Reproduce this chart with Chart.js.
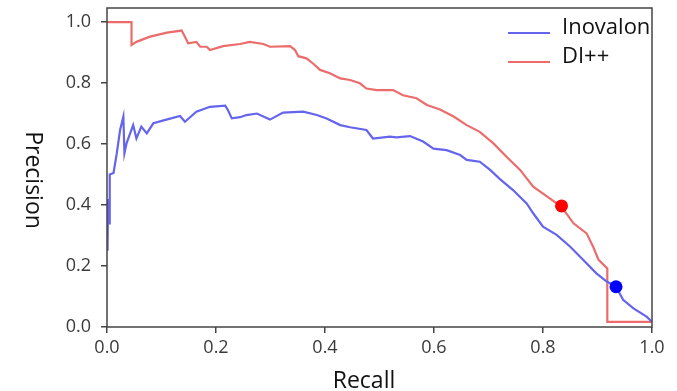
<!DOCTYPE html>
<html>
<head>
<meta charset="utf-8">
<script src="https://cdn.jsdelivr.net/npm/chart.js@4"></script>
<style>
  html, body { margin: 0; padding: 0; background: #fff; }
  #wrap { width: 677px; height: 391px; position: relative; }
</style>
</head>
<body>
<div id="wrap"><canvas id="c" width="677" height="391"></canvas></div>
<script>
// ---- data ----
const seriesNames = ["Inovalon", "DI++"];

const recallInovalon = [0.001, 0.002, 0.004, 0.005, 0.012, 0.018, 0.024, 0.030, 0.032, 0.036,
  0.048, 0.054, 0.063, 0.073, 0.085, 0.109, 0.134, 0.143, 0.164, 0.189,
  0.217, 0.222, 0.229, 0.244, 0.256, 0.275, 0.299, 0.323, 0.360, 0.385,
  0.403, 0.428, 0.446, 0.476, 0.488, 0.519, 0.531, 0.556, 0.580, 0.599,
  0.623, 0.648, 0.660, 0.684, 0.703, 0.721, 0.745, 0.770, 0.782, 0.800, 0.825,
  0.850, 0.874, 0.898, 0.917, 0.934, 0.947, 0.966, 0.990, 1.000];
const precisionInovalon = [0.25, 0.42, 0.34, 0.50, 0.505, 0.57, 0.646, 0.69, 0.57, 0.603,
  0.662, 0.618, 0.657, 0.635, 0.668, 0.68, 0.692, 0.673, 0.706, 0.722,
  0.726, 0.711, 0.684, 0.688, 0.695, 0.70, 0.68, 0.703, 0.706, 0.695,
  0.684, 0.662, 0.655, 0.646, 0.618, 0.624, 0.622, 0.626, 0.608, 0.585,
  0.58, 0.564, 0.548, 0.542, 0.515, 0.485, 0.449, 0.405, 0.373, 0.329, 0.302,
  0.263, 0.22, 0.176, 0.149, 0.132, 0.089, 0.061, 0.034, 0.017];

const recallDI = [0.000, 0.045, 0.045, 0.054, 0.079, 0.110, 0.137, 0.143, 0.149, 0.164,
  0.171, 0.183, 0.189, 0.213, 0.244, 0.262, 0.287, 0.299, 0.336, 0.345,
  0.351, 0.366, 0.378, 0.391, 0.409, 0.428, 0.446, 0.464, 0.476, 0.495,
  0.525, 0.543, 0.568, 0.587, 0.611, 0.636, 0.660, 0.684, 0.709, 0.733,
  0.758, 0.782, 0.813, 0.834, 0.856, 0.880, 0.892, 0.902, 0.918, 0.918, 1.000];
const precisionDI = [1.0, 1.0, 0.925, 0.935, 0.952, 0.965, 0.972, 0.952, 0.93, 0.935,
  0.919, 0.919, 0.908, 0.921, 0.928, 0.935, 0.928, 0.919, 0.921, 0.908,
  0.888, 0.881, 0.864, 0.843, 0.832, 0.815, 0.81, 0.799, 0.782, 0.777,
  0.777, 0.76, 0.75, 0.728, 0.713, 0.69, 0.662, 0.64, 0.602, 0.558,
  0.515, 0.46, 0.421, 0.394, 0.34, 0.307, 0.263, 0.22, 0.192, 0.017, 0.017];

// operating points (dots)
const pointInovalon = { recall: 0.934, precision: 0.132 };
const pointDI = { recall: 0.834, precision: 0.397 };

const tickValues = [0.0, 0.2, 0.4, 0.6, 0.8, 1.0];
const xTitle = "Recall";
const yTitle = "Precision";

// ---- styles ----
const blue = "#6464ec";
const red = "#ec6c6c";
const axisColor = "#444";
const textColor = "#111";

const toXY = (xs, ys) => xs.map((x, i) => ({ x: x, y: ys[i] }));

const frameAndTitles = {
  id: "frameAndTitles",
  afterDatasetsDraw(chart) {
    const ctx = chart.ctx, a = chart.chartArea;
    ctx.save();
    ctx.strokeStyle = axisColor;
    ctx.lineWidth = 1.5;
    ctx.strokeRect(a.left, a.top, a.right - a.left, a.bottom - a.top);
    ctx.restore();
  },
  afterDraw(chart) {
    const ctx = chart.ctx, a = chart.chartArea;
    ctx.save();
    ctx.fillStyle = textColor;
    ctx.font = "23px 'Open Sans'";
    ctx.textAlign = "center";
    ctx.textBaseline = "alphabetic";
    ctx.fillText(xTitle, a.left + 257, 388);
    ctx.translate(33, 180);
    ctx.rotate(Math.PI / 2);
    ctx.textBaseline = "middle";
    ctx.fillText(yTitle, 0, 0);
    ctx.restore();

    ctx.save();
    const items = [
      { label: seriesNames[0], color: blue, y: 33 },
      { label: seriesNames[1], color: red, y: 62 }
    ];
    ctx.font = "22px 'Open Sans'";
    ctx.textAlign = "left";
    ctx.textBaseline = "alphabetic";
    items.forEach(it => {
      ctx.strokeStyle = it.color;
      ctx.lineWidth = 2.2;
      ctx.beginPath();
      ctx.moveTo(508, it.y);
      ctx.lineTo(550, it.y);
      ctx.stroke();
      ctx.fillStyle = textColor;
      ctx.fillText(it.label, 562, it.y + 1);
    });
    ctx.restore();
  }
};

new Chart(document.getElementById("c"), {
  type: "scatter",
  data: {
    datasets: [
      {
        label: seriesNames[1] + " point",
        data: [{ x: pointDI.recall, y: pointDI.precision }],
        pointRadius: 6.5, pointBackgroundColor: "#ff0000", pointBorderColor: "#ff0000",
        pointBorderWidth: 0, showLine: false, order: 0
      },
      {
        label: seriesNames[0] + " point",
        data: [{ x: pointInovalon.recall, y: pointInovalon.precision }],
        pointRadius: 6.5, pointBackgroundColor: "#0000ff", pointBorderColor: "#0000ff",
        pointBorderWidth: 0, showLine: false, order: 0
      },
      {
        label: seriesNames[0],
        data: toXY(recallInovalon, precisionInovalon),
        showLine: true, borderColor: blue, borderWidth: 2.2, pointRadius: 0,
        tension: 0, order: 1
      },
      {
        label: seriesNames[1],
        data: toXY(recallDI, precisionDI),
        showLine: true, borderColor: red, borderWidth: 2.2, pointRadius: 0,
        tension: 0, order: 2
      }
    ]
  },
  options: {
    responsive: false,
    animation: false,
    events: [],
    layout: { padding: { left: 0, right: 25, top: 8, bottom: 0 } },
    plugins: { legend: { display: false }, tooltip: { enabled: false }, title: { display: false } },
    scales: {
      x: {
        type: "linear", min: 0, max: 1,
        afterBuildTicks: s => { s.ticks = tickValues.map(v => ({ value: v })); },
        afterFit: s => { s.height = 64; s.paddingLeft = 0; s.paddingRight = 0; },
        ticks: {
          font: { family: "'Open Sans'", size: 18 }, color: "#3a3a3a", padding: 4,
          maxRotation: 0, autoSkip: false,
          callback: v => Number(v).toFixed(1)
        },
        grid: { display: true, drawOnChartArea: false, drawTicks: true, tickLength: 6, color: axisColor, lineWidth: 1.5 },
        border: { display: false }
      },
      y: {
        type: "linear", min: 0, max: 1.046,
        afterBuildTicks: s => { s.ticks = tickValues.map(v => ({ value: v })); },
        afterFit: s => { s.width = 107; s.paddingTop = 0; s.paddingBottom = 0; },
        ticks: {
          font: { family: "'Open Sans'", size: 18 }, color: "#3a3a3a", padding: 10,
          autoSkip: false,
          callback: v => Number(v).toFixed(1)
        },
        grid: { display: true, drawOnChartArea: false, drawTicks: true, tickLength: 6, color: axisColor, lineWidth: 1.5 },
        border: { display: false }
      }
    }
  },
  plugins: [frameAndTitles]
});
</script>
</body>
</html>
